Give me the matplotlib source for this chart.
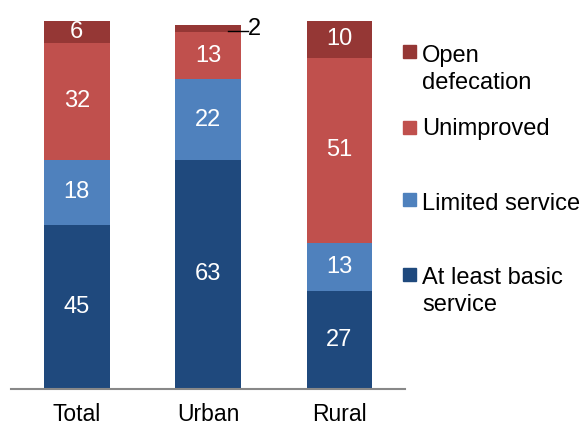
import matplotlib.pyplot as plt
from matplotlib.patches import Rectangle

plt.rcParams['font.family'] = ['Liberation Sans', 'DejaVu Sans']

# Data
areas = ['Total', 'Urban', 'Rural']
basic = [45, 63, 27]
limited = [18, 22, 13]
unimproved = [32, 13, 51]
open_def = [6, 2, 10]

series = [basic, limited, unimproved, open_def]
labels = ['At least basic\nservice', 'Limited service', 'Unimproved', 'Open\ndefecation']
colors = ['#1F497D', '#4F81BD', '#C0504D', '#953735']

fig = plt.figure(figsize=(5.83, 4.25), dpi=100)
ax = fig.add_axes([0.019, 0.085, 0.676, 0.865])

x = range(len(areas))
bottom = [0] * len(areas)
for vals, col in zip(series, colors):
    ax.bar(x, vals, width=0.5, bottom=bottom, color=col, edgecolor='none')
    for i, v in enumerate(vals):
        if v >= 5:
            ax.text(i, bottom[i] + v / 2, str(v), ha='center', va='center',
                    color='white', fontsize=17)
        else:
            # small segment: label outside with a short leader line
            yy = bottom[i] + v / 2 - 0.6
            ax.plot([i + 0.15, i + 0.30], [yy, yy], color='black', lw=1,
                    clip_on=False)
            ax.text(i + 0.30, yy - 1.2, str(v), ha='left', va='baseline',
                    fontsize=17, clip_on=False)
    bottom = [b + v for b, v in zip(bottom, vals)]

ax.set_xlim(-0.5, 2.5)
ax.set_ylim(0, 101)
ax.set_xticks(list(x))
ax.set_xticklabels(areas, fontsize=16.5)
ax.tick_params(axis='x', length=0, pad=10)
ax.set_yticks([])
for s in ['top', 'left', 'right']:
    ax.spines[s].set_visible(False)
ax.spines['bottom'].set_color('#888888')
ax.spines['bottom'].set_linewidth(1.5)

# legend drawn by hand (top to bottom), pixel positions
W, H = 583, 425
text_top = [45, 118, 193, 267]
box_top = [45, 121, 193, 268]
for lab, col, ty, by in zip(labels[::-1], colors[::-1], text_top, box_top):
    fig.add_artist(Rectangle((403 / W, 1 - (by + 13) / H), 13 / W, 13 / H,
                             transform=fig.transFigure, color=col))
    fig.text(422 / W, 1 - ty / H, lab, ha='left', va='top',
             fontsize=17, linespacing=1.3)

plt.savefig('out.png', dpi=100)
